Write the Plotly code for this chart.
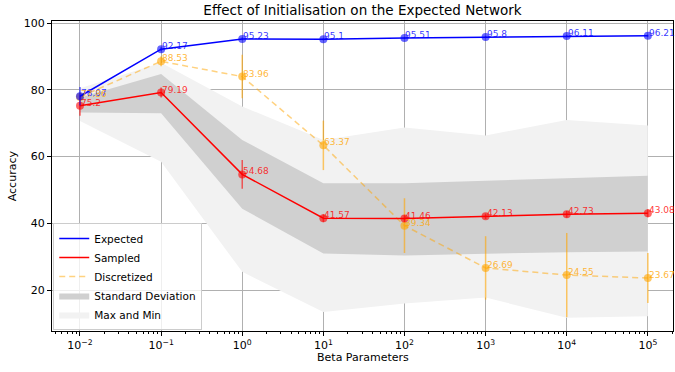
import math
import plotly.graph_objects as go

betas = [1e-2, 1e-1, 1e0, 1e1, 1e2, 1e3, 1e4, 1e5]
beta_labels = ["10<sup>−2</sup>", "10<sup>−1</sup>", "10<sup>0</sup>", "10<sup>1</sup>",
               "10<sup>2</sup>", "10<sup>3</sup>", "10<sup>4</sup>", "10<sup>5</sup>"]

expected = [78.07, 92.17, 95.23, 95.1, 95.51, 95.8, 96.11, 96.21]
expected_err = [2.8, 0.6, 0.4, 0.3, 0.3, 0.3, 0.3, 0.3]

sampled = [75.2, 79.19, 54.68, 41.57, 41.46, 42.13, 42.73, 43.08]
sampled_err = [3.0, 1.5, 4.3, 1.2, 1.0, 0.8, 1.0, 1.2]

discretized = [77.86, 88.53, 83.96, 63.37, 39.34, 26.69, 24.55, 23.67]
discretized_err = [1.0, 1.5, 6.5, 7.4, 8.2, 9.5, 12.6, 7.5]

std_upper = [77.7, 84.7, 65.0, 52.0, 52.0, 52.8, 53.6, 54.3]
std_lower = [73.2, 73.0, 44.4, 31.0, 30.4, 31.0, 31.4, 31.6]

max_vals = [80.5, 88.1, 75.0, 65.0, 68.7, 66.3, 71.0, 69.3]
min_vals = [70.7, 58.5, 25.5, 13.5, 16.0, 17.8, 11.8, 12.2]

fig = go.Figure()

# Max and Min band
fig.add_trace(go.Scatter(x=betas, y=max_vals, mode="lines", line=dict(width=0, color="rgba(0,0,0,0)"),
                         showlegend=False, hoverinfo="skip"))
fig.add_trace(go.Scatter(x=betas, y=min_vals, mode="lines", line=dict(width=0, color="rgba(0,0,0,0)"),
                         fill="tonexty", fillcolor="rgba(242,242,242,1)", showlegend=False,
                         hoverinfo="skip"))
# Std band
fig.add_trace(go.Scatter(x=betas, y=std_upper, mode="lines", line=dict(width=0, color="rgba(0,0,0,0)"),
                         showlegend=False, hoverinfo="skip"))
fig.add_trace(go.Scatter(x=betas, y=std_lower, mode="lines", line=dict(width=0, color="rgba(0,0,0,0)"),
                         fill="tonexty", fillcolor="rgba(208,208,208,1)", showlegend=False,
                         hoverinfo="skip"))

fig.add_trace(go.Scatter(x=betas, y=discretized, mode="lines+markers", showlegend=False,
                         line=dict(color="rgba(255,165,0,0.5)", width=1.5, dash="6px,4px"),
                         marker=dict(color="rgba(255,165,0,0.6)", size=8),
                         error_y=dict(type="data", array=discretized_err, color="rgba(255,165,0,0.6)",
                                      thickness=1.5, width=0)))
fig.add_trace(go.Scatter(x=betas, y=sampled, mode="lines+markers", showlegend=False,
                         line=dict(color="red", width=1.5),
                         marker=dict(color="rgba(255,0,0,0.6)", size=8),
                         error_y=dict(type="data", array=sampled_err, color="rgba(255,0,0,0.6)",
                                      thickness=1.5, width=0)))
fig.add_trace(go.Scatter(x=betas, y=expected, mode="lines+markers", showlegend=False,
                         line=dict(color="blue", width=1.5),
                         marker=dict(color="rgba(0,0,255,0.6)", size=8),
                         error_y=dict(type="data", array=expected_err, color="rgba(0,0,255,0.6)",
                                      thickness=1.5, width=0)))

# legend entries
fig.add_trace(go.Scatter(x=[None], y=[None], mode="lines", name="Expected",
                         line=dict(color="blue", width=1.5)))
fig.add_trace(go.Scatter(x=[None], y=[None], mode="lines", name="Sampled",
                         line=dict(color="red", width=1.5)))
fig.add_trace(go.Scatter(x=[None], y=[None], mode="lines", name="Discretized",
                         line=dict(color="rgba(255,165,0,0.5)", width=1.5, dash="6px,4px")))
fig.add_trace(go.Scatter(x=[None], y=[None], mode="lines", name="Standard Deviation",
                         fill="toself", fillcolor="rgba(208,208,208,1)",
                         line=dict(width=0, color="rgba(0,0,0,0)")))
fig.add_trace(go.Scatter(x=[None], y=[None], mode="lines", name="Max and Min",
                         fill="toself", fillcolor="rgba(242,242,242,1)",
                         line=dict(width=0, color="rgba(0,0,0,0)")))

annotations = []
for vals, col in [(expected, "rgba(0,0,255,0.8)"), (sampled, "rgba(255,0,0,0.8)"),
                  (discretized, "rgba(255,165,0,0.8)")]:
    for xv, yv in zip(betas, vals):
        annotations.append(dict(x=math.log10(xv), y=yv, xref="x", yref="y", text=f"{yv:g}",
                                showarrow=False, xanchor="left", yanchor="bottom",
                                xshift=-1, yshift=-4,
                                font=dict(size=9, color=col, family="DejaVu Sans")))

annotations.append(dict(x=0.5, y=-0.084, xref="paper", yref="paper", text="Beta Parameters",
                        showarrow=False, xanchor="center", yanchor="middle",
                        font=dict(size=11, family="DejaVu Sans")))
annotations.append(dict(x=-0.064, y=0.5, xref="paper", yref="paper", text="Accuracy",
                        showarrow=False, xanchor="center", yanchor="middle", textangle=-90,
                        font=dict(size=11, family="DejaVu Sans")))

fig.update_layout(
    width=675, height=372,
    margin=dict(l=52, r=2, t=21, b=41),
    paper_bgcolor="white", plot_bgcolor="white",
    font=dict(family="DejaVu Sans", size=11, color="black"),
    title=dict(text="Effect of Initialisation on the Expected Network", x=0.537, xanchor="center",
               y=0.973, yanchor="middle", yref="container", font=dict(size=13.5)),
    showlegend=True,
    legend=dict(x=0.002, y=0.003, xanchor="left", yanchor="bottom", bgcolor="rgba(255,255,255,0.8)",
                bordercolor="#cccccc", borderwidth=1, font=dict(size=10.5), tracegroupgap=0,
                traceorder="normal", itemwidth=30),
    annotations=annotations,
)

fig.update_xaxes(type="log", range=[-2.345, 5.31], tickvals=betas, ticktext=beta_labels,
                 showgrid=True, gridcolor="#b0b0b0", gridwidth=1,
                 showline=True, linecolor="black", linewidth=1, mirror=True,
                 ticks="outside", ticklen=4, tickcolor="black",
                 minor=dict(ticks="outside", ticklen=2, tickcolor="black", dtick="D1", showgrid=False),
                 zeroline=False)
fig.update_yaxes(range=[7.8, 100.6], tickvals=[20, 40, 60, 80, 100],
                 showgrid=True, gridcolor="#b0b0b0", gridwidth=1,
                 showline=True, linecolor="black", linewidth=1, mirror=True,
                 ticks="outside", ticklen=4, tickcolor="black",
                 zeroline=False)

fig.write_html("out.html", config={"displayModeBar": False},
               post_script="document.body.style.margin='0';")
